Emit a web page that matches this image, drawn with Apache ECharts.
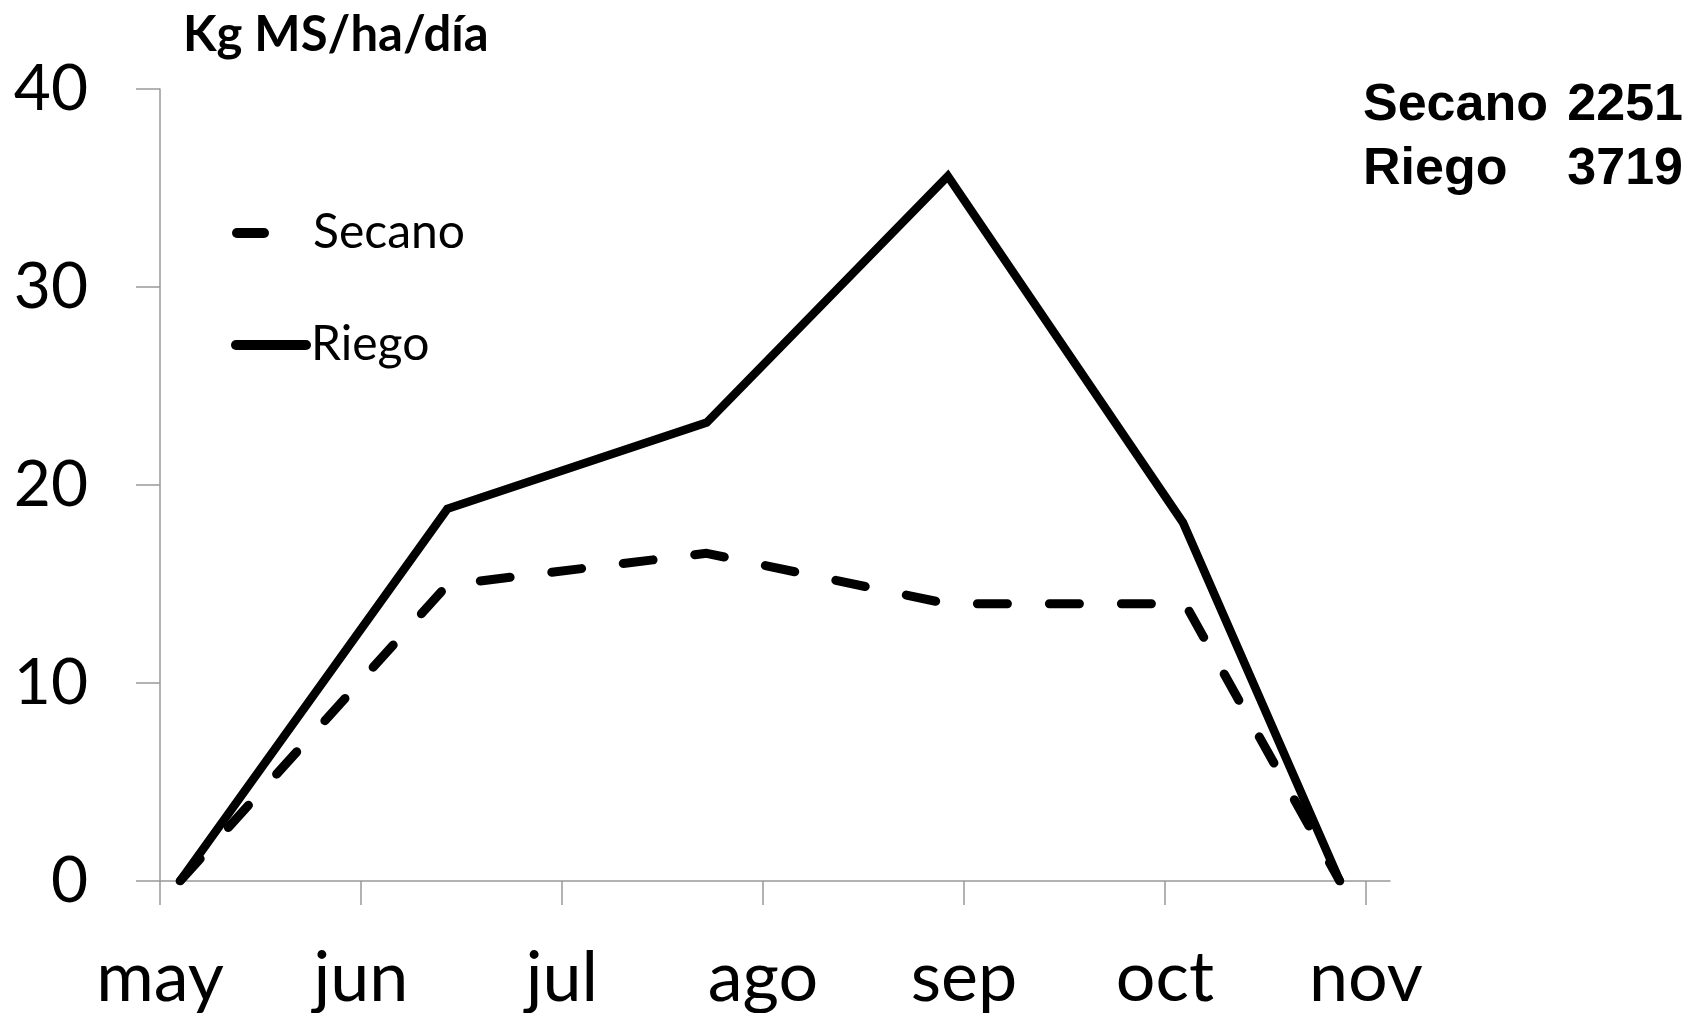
<!DOCTYPE html>
<html>
<head>
<meta charset="utf-8">
<script src="https://cdn.jsdelivr.net/npm/echarts@6/dist/echarts.min.js"></script>
<style>
  html, body { margin: 0; padding: 0; background: #ffffff; }
  #chart { width: 1693px; height: 1013px; }
</style>
</head>
<body>
<div id="chart"></div>
<script>
// Month labels on the x axis (tick 0 = 1 May)
const months = ['may', 'jun', 'jul', 'ago', 'sep', 'oct', 'nov'];
const monthTicks = [0, 1, 2, 3, 4, 5, 6];

// Growth rate, kg MS/ha/día, at each measurement date (months after 1 May)
const dateSecano = [0.10, 1.43, 2.72, 3.92, 5.10, 5.87];
const secano = [0, 14.95, 16.55, 14.0, 14.0, 0];
const dateRiego = [0.10, 1.43, 2.72, 3.92, 5.09, 5.87];
const riego = [0, 18.8, 23.15, 35.6, 18.1, 0];

// Season totals, kg MS/ha
const totalNames = ['Secano', 'Riego'];
const totals = [2251, 3719];

const pairs = (xs, ys) => xs.map((x, i) => [x, ys[i]]);

const axisGray = '#999999';
const font = 'Lato';

const chart = echarts.init(document.getElementById('chart'));

const totalsText = [];
totalNames.forEach((name, i) => {
  const y = 106 + i * 64;
  totalsText.push({
    type: 'text', x: 1363, y: y,
    style: { text: name, fontFamily: 'Liberation Sans', fontWeight: 'bold', fontSize: 52,
             fill: '#000', align: 'left', verticalAlign: 'middle' }
  });
  totalsText.push({
    type: 'text', x: 1683, y: y,
    style: { text: String(totals[i]), fontFamily: 'Liberation Sans', fontWeight: 'bold', fontSize: 52,
             fill: '#000', align: 'right', verticalAlign: 'middle' }
  });
});

const legendText = { fontFamily: font, fontSize: 48, color: '#000' };
const hiddenSymbol = { opacity: 0, color: '#000', borderWidth: 0 };

chart.setOption({
  animation: false,
  backgroundColor: '#ffffff',
  title: {
    text: 'Kg MS/ha/día',
    left: 183, top: 11, padding: 0,
    textStyle: { fontFamily: font, fontWeight: 'bold', fontSize: 49, color: '#000' }
  },
  grid: { left: 160, right: 303, top: 89, bottom: 132, containLabel: false, outerBoundsMode: 'none' },
  legend: [
    {
      data: ['Secano'], left: 232, top: 209, padding: 0, selectedMode: false,
      itemWidth: 71, itemHeight: 12,
      itemStyle: hiddenSymbol,
      lineStyle: { width: 10, type: [27, 200], cap: 'round', color: '#000' },
      textStyle: legendText
    },
    {
      data: ['Riego'], left: 231, top: 321, padding: 0, selectedMode: false,
      itemWidth: 70, itemHeight: 12,
      itemStyle: hiddenSymbol,
      lineStyle: { width: 10, type: 'solid', cap: 'round', color: '#000' },
      textStyle: legendText
    }
  ],
  xAxis: {
    type: 'value', min: 0, max: 6.12, interval: 1,
    splitLine: { show: false },
    axisLine: { show: true, onZero: false, lineStyle: { color: axisGray, width: 1.5 } },
    axisTick: { show: true, length: 24, customValues: monthTicks,
                lineStyle: { color: axisGray, width: 1.5 } },
    axisLabel: {
      customValues: monthTicks, margin: 62,
      fontFamily: font, fontSize: 70, color: '#000',
      formatter: v => (Math.abs(v - Math.round(v)) < 1e-6 ? months[Math.round(v)] : '')
    }
  },
  yAxis: {
    type: 'value', min: 0, max: 40, interval: 10,
    splitLine: { show: false },
    axisLine: { show: true, lineStyle: { color: axisGray, width: 1.5 } },
    axisTick: { show: true, length: 24, lineStyle: { color: axisGray, width: 1.5 } },
    axisLabel: { margin: 72, fontFamily: font, fontSize: 64, color: '#000' }
  },
  graphic: totalsText,
  series: [
    {
      name: 'Secano', type: 'line', data: pairs(dateSecano, secano),
      symbol: 'none', showSymbol: false,
      itemStyle: { color: '#000' },
      lineStyle: { color: '#000', width: 9, type: [30, 42], cap: 'round', join: 'round' }
    },
    {
      name: 'Riego', type: 'line', data: pairs(dateRiego, riego),
      symbol: 'none', showSymbol: false,
      itemStyle: { color: '#000' },
      lineStyle: { color: '#000', width: 8.5, type: 'solid', join: 'miter' }
    }
  ]
});
</script>
</body>
</html>
